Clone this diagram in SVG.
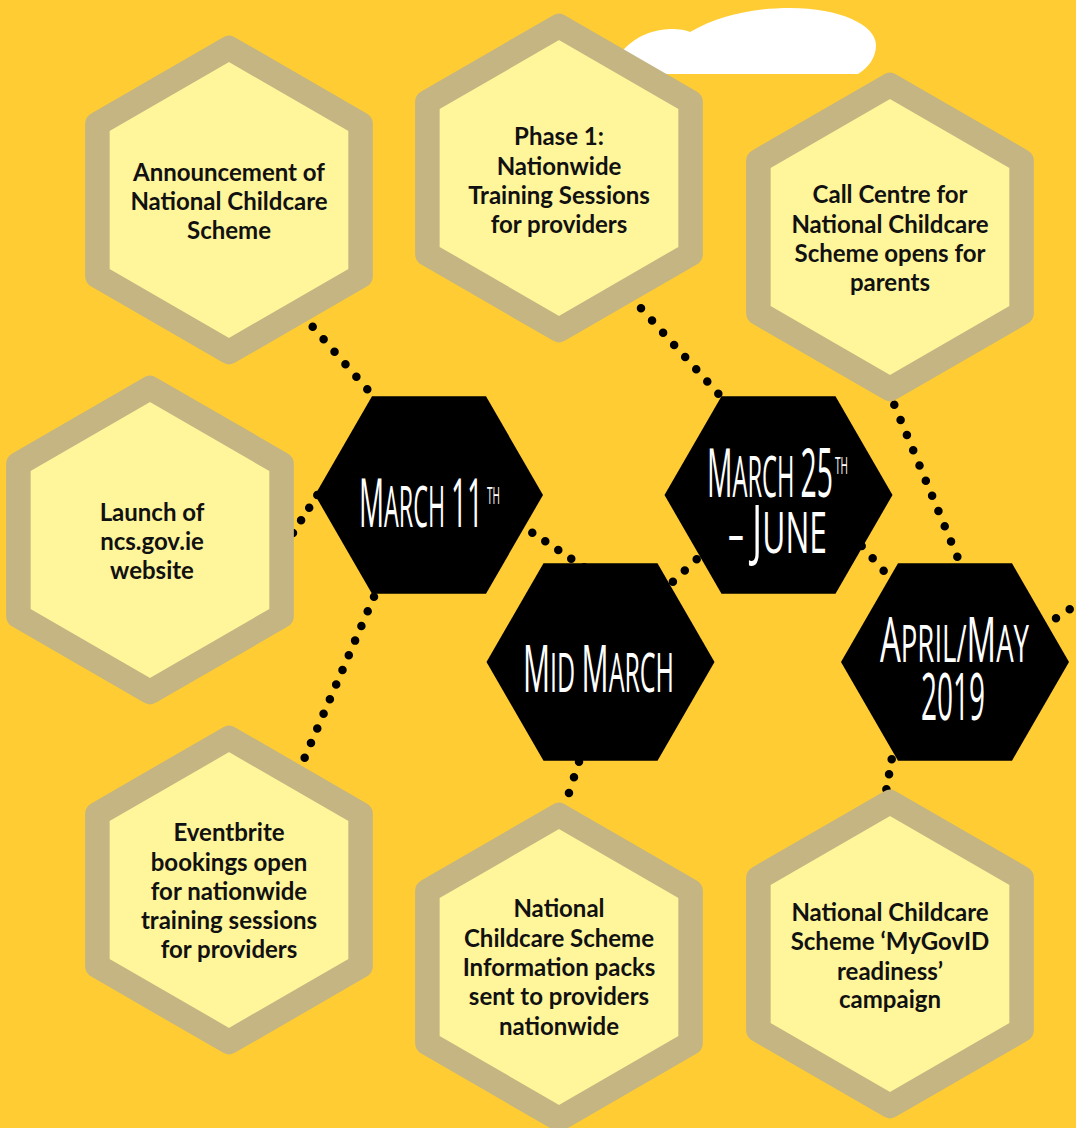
<svg xmlns="http://www.w3.org/2000/svg" xmlns:xlink="http://www.w3.org/1999/xlink" width="1076" height="1128" viewBox="0 0 1076 1128">
<defs>
<style>
.lhex{fill:#FFF59B;stroke:#C4B582;stroke-width:24.5;stroke-linejoin:round}
.bhex{fill:#000}
.lt{font-family:Lato,"Liberation Sans",sans-serif;font-weight:700;font-size:24px;fill:#111;text-anchor:middle}
.bt{font-family:"Open Sans","Liberation Sans",sans-serif;font-weight:400;fill:#fff}
.dots{fill:none;stroke:#000;stroke-width:8.5;stroke-linecap:round}
</style>
<polygon id="lh" points="0,-152 131.6,-76 131.6,76 0,152 -131.6,76 -131.6,-76"/>
<polygon id="bh" points="-114,0 -57,-98.7 57,-98.7 114,0 57,98.7 -57,98.7"/>
</defs>
<rect width="1076" height="1128" fill="#FFCC33"/>
<path id="cloud" d="M612 74 C615 50 640 30 670 29 C680 29 686 30 690 32 C720 15 755 8 790 8 C840 8 876 25 876 45 C876 58 868 68 858 74 Z" fill="#fff"/>
<g id="connectors" class="dots">
<path d="M312.7 326.7 L367.4 389.4" stroke-dasharray="0 16.61"/>
<path d="M317.3 495 L292.9 533.1" stroke-dasharray="0 15.03"/>
<path d="M374 596.7 L304.6 757.9" stroke-dasharray="0 15.94"/>
<path d="M532.3 532.7 L584.4 567.4" stroke-dasharray="0 15.6"/>
<path d="M641 308.3 L718.4 393.8" stroke-dasharray="0 16.46"/>
<path d="M696.7 559.3 L660.9 593.1" stroke-dasharray="0 16.37"/>
<path d="M894.3 404.7 L957.4 556.8" stroke-dasharray="0 16.45"/>
<path d="M861.7 546 L883.8 570.8" stroke-dasharray="0 16.5"/>
<path d="M1042.3 627.3 L1083.5 600.2" stroke-dasharray="0 16.4"/>
<path d="M579 761.7 L568.9 793.1" stroke-dasharray="0 16.4"/>
<path d="M891.7 759.3 L886.4 789.3" stroke-dasharray="0 15.2"/>
</g>
<g id="announcement">
<use xlink:href="#lh" class="lhex" transform="translate(229,200)"/>
<text class="lt"><tspan x="229" y="180.5">Announcement of</tspan><tspan x="229" y="210">National Childcare</tspan><tspan x="229" y="239">Scheme</tspan></text>
</g>
<g id="phase1">
<use xlink:href="#lh" class="lhex" transform="translate(559,178)"/>
<text class="lt"><tspan x="559" y="145">Phase 1:</tspan><tspan x="559" y="174.5">Nationwide</tspan><tspan x="559" y="204">Training Sessions</tspan><tspan x="559" y="233">for providers</tspan></text>
</g>
<g id="callcentre">
<use xlink:href="#lh" class="lhex" transform="translate(890,237)"/>
<text class="lt"><tspan x="890" y="203">Call Centre for</tspan><tspan x="890" y="232.5">National Childcare</tspan><tspan x="890" y="262">Scheme opens for</tspan><tspan x="890" y="291">parents</tspan></text>
</g>
<g id="launch">
<use xlink:href="#lh" class="lhex" transform="translate(150,540)"/>
<text class="lt"><tspan x="152" y="520.5">Launch of</tspan><tspan x="152" y="549.5">ncs.gov.ie</tspan><tspan x="152" y="578.5">website</tspan></text>
</g>
<g id="eventbrite">
<use xlink:href="#lh" class="lhex" transform="translate(229,890)"/>
<text class="lt"><tspan x="229" y="841">Eventbrite</tspan><tspan x="229" y="870.5">bookings open</tspan><tspan x="229" y="899.5">for nationwide</tspan><tspan x="229" y="929">training sessions</tspan><tspan x="229" y="958">for providers</tspan></text>
</g>
<g id="infopacks">
<use xlink:href="#lh" class="lhex" transform="translate(559,967)"/>
<text class="lt"><tspan x="559" y="917">National</tspan><tspan x="559" y="946.5">Childcare Scheme</tspan><tspan x="559" y="976">Information packs</tspan><tspan x="559" y="1005">sent to providers</tspan><tspan x="559" y="1034.5">nationwide</tspan></text>
</g>
<g id="mygovid">
<use xlink:href="#lh" class="lhex" transform="translate(890,954)"/>
<text class="lt"><tspan x="890" y="921">National Childcare</tspan><tspan x="890" y="950">Scheme ‘MyGovID</tspan><tspan x="890" y="979.5">readiness’</tspan><tspan x="890" y="1008">campaign</tspan></text>
</g>
<g id="march11">
<use xlink:href="#bh" class="bhex" transform="translate(429,495)"/>
<text class="bt" transform="translate(359,527) scale(0.417,1)" x="0" y="0" textLength="297.4" lengthAdjust="spacingAndGlyphs"><tspan font-size="67">M</tspan><tspan font-size="56">ARCH </tspan><tspan font-size="67">11</tspan></text>
<text class="bt" transform="translate(487,504) scale(0.42,1)" x="0" y="0" font-size="24" textLength="31" lengthAdjust="spacingAndGlyphs">TH</text>
</g>
<g id="march25">
<use xlink:href="#bh" class="bhex" transform="translate(778.5,495)"/>
<text class="bt" transform="translate(707,497) scale(0.424,1)" x="0" y="0" textLength="297.2" lengthAdjust="spacingAndGlyphs"><tspan font-size="67">M</tspan><tspan font-size="56">ARCH </tspan><tspan font-size="67">25</tspan></text>
<text class="bt" transform="translate(835,474) scale(0.42,1)" x="0" y="0" font-size="24" textLength="31" lengthAdjust="spacingAndGlyphs">TH</text>
<text class="bt" transform="translate(728,553) scale(0.56,1)" x="0" y="0" textLength="176.8" lengthAdjust="spacingAndGlyphs"><tspan font-size="56">– </tspan><tspan font-size="67">J</tspan><tspan font-size="56">UNE</tspan></text>
</g>
<g id="midmarch">
<use xlink:href="#bh" class="bhex" transform="translate(600.5,662)"/>
<text class="bt" transform="translate(523,692) scale(0.463,1)" x="0" y="0" textLength="326.1" lengthAdjust="spacingAndGlyphs"><tspan font-size="65">M</tspan><tspan font-size="54">ID </tspan><tspan font-size="65">M</tspan><tspan font-size="54">ARCH</tspan></text>
</g>
<g id="aprilmay">
<use xlink:href="#bh" class="bhex" transform="translate(955,662)"/>
<text class="bt" transform="translate(880,662) scale(0.529,1)" x="0" y="0" textLength="281.7" lengthAdjust="spacingAndGlyphs"><tspan font-size="62">A</tspan><tspan font-size="52">PRIL/</tspan><tspan font-size="62">M</tspan><tspan font-size="52">AY</tspan></text>
<text class="bt" transform="translate(921,720) scale(0.43,1)" x="0" y="0" font-size="65" textLength="148.8" lengthAdjust="spacingAndGlyphs">2019</text>
</g>
</svg>
